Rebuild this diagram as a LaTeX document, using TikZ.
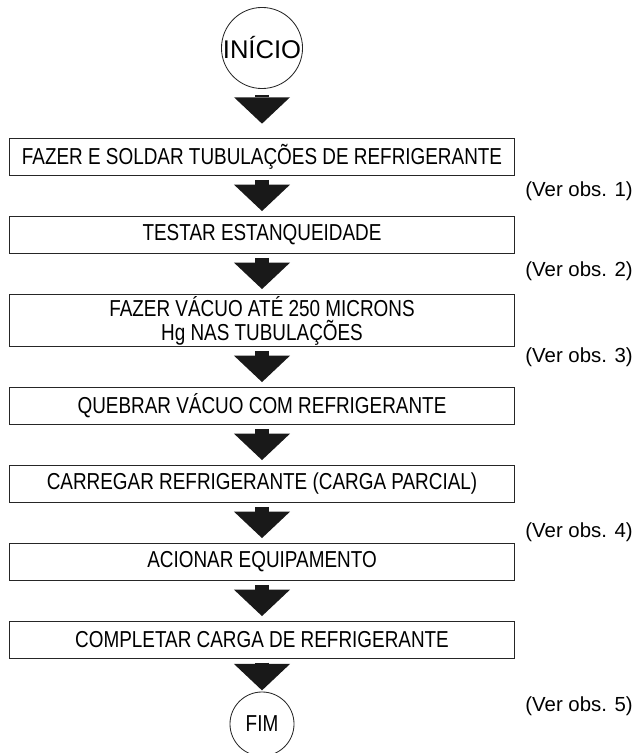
\documentclass[tikz,border=0pt]{standalone}
\usepackage{fontspec}
\setmainfont{Liberation Sans}[FakeStretch=0.82]
\newfontfamily\startfont{Liberation Sans}
\usetikzlibrary{arrows.meta}

\begin{document}
\begin{tikzpicture}[x=0.025cm,y=-0.025cm,
  box/.style={draw=black!85,line width=0.6pt,minimum width=12.625cm,minimum height=0.925cm,inner sep=0pt,align=center,font=\fontsize{16.4}{16.4}\selectfont},
  term/.style={draw=black!85,line width=0.6pt,circle,inner sep=0pt},
  obs/.style={anchor=east,inner sep=0pt,font=\startfont\fontsize{14.5}{16}\selectfont},
  flow/.style={line width=0.34cm,black!90,-{Triangle[width=1.4cm,length=0.66cm,line width=0pt]},shorten <=0.1cm,shorten >=0.125cm}]
 \useasboundingbox (0,0) rectangle (637,753);
 \node[term,minimum size=1.95cm,font=\startfont\fontsize{18.2}{20}\selectfont] (inicio) at (262,48) {INÍCIO};
 \node[box] (solda) at (262,157) {FAZER E SOLDAR TUBULAÇÕES DE REFRIGERANTE};
 \node[box] (teste) at (262,235) {TESTAR ESTANQUEIDADE};
 \node[box,minimum height=1.3cm] (vacuo) at (262,320.5) {FAZER VÁCUO ATÉ 250 MICRONS\\[0.6pt]Hg NAS TUBULAÇÕES};
 \node[box] (quebra) at (262,406) {QUEBRAR VÁCUO COM REFRIGERANTE};
 \node[box] (carga) at (262,484) {CARREGAR REFRIGERANTE (CARGA PARCIAL)};
 \node[box] (aciona) at (262,562) {ACIONAR EQUIPAMENTO};
 \node[box] (completa) at (262,640) {COMPLETAR CARGA DE REFRIGERANTE};
 \node[term,minimum size=1.6cm,font=\fontsize{16.4}{16.4}\selectfont] (fim) at (262,724) {FIM};

 \draw[flow,shorten <=0.15cm,shorten >=0.36cm] (inicio) -- (solda);
 \draw[flow] (solda) -- (teste);
 \draw[flow] (teste) -- (vacuo);
 \draw[flow] (vacuo) -- (quebra);
 \draw[flow] (quebra) -- (carga);
 \draw[flow] (carga) -- (aciona);
 \draw[flow] (aciona) -- (completa);
 \draw[flow,shorten <=0.09cm,shorten >=0.03cm] (completa) -- (fim);

 \node[obs] (obs1) at (633,191) {(Ver obs. 1)};
 \node[obs] (obs2) at (633,271) {(Ver obs. 2)};
 \node[obs] (obs3) at (633,357) {(Ver obs. 3)};
 \node[obs] (obs4) at (633,532) {(Ver obs. 4)};
 \node[obs] (obs5) at (633,706) {(Ver obs. 5)};
\end{tikzpicture}
\end{document}
